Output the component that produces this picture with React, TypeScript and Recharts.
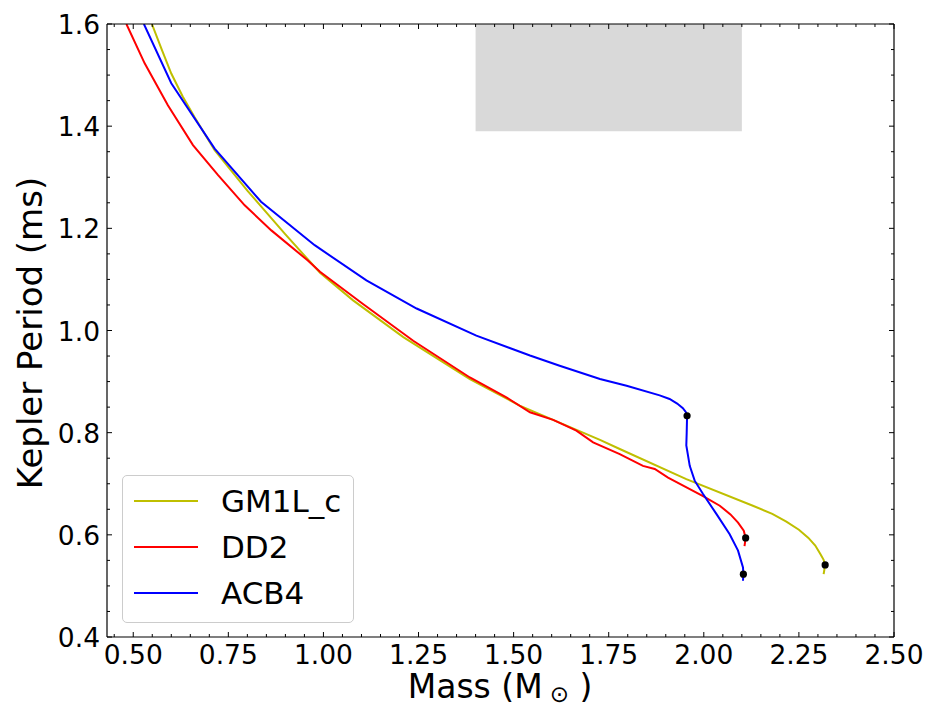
import React from 'react';
import {
  ComposedChart,
  Line,
  Scatter,
  XAxis,
  YAxis,
  ReferenceArea,
  Legend,
} from 'recharts';

// ---------- data ----------
const gm1lMass = [0.549, 0.575, 0.6, 0.63, 0.661, 0.714, 0.8, 0.9, 0.991, 1.078, 1.21, 1.385, 1.516, 1.727, 1.779, 1.954, 2.129, 2.18, 2.217, 2.25, 2.275, 2.293, 2.306, 2.315, 2.319, 2.315];
const gm1lPeriod = [1.6, 1.55, 1.503, 1.458, 1.418, 1.353, 1.274, 1.188, 1.113, 1.059, 0.987, 0.905, 0.853, 0.786, 0.768, 0.709, 0.657, 0.641, 0.626, 0.61, 0.594, 0.579, 0.563, 0.551, 0.541, 0.523];

const dd2Mass = [0.482, 0.53, 0.591, 0.657, 0.723, 0.793, 0.863, 0.959, 0.991, 1.104, 1.236, 1.385, 1.481, 1.543, 1.604, 1.665, 1.709, 1.779, 1.84, 1.871, 1.906, 1.998, 2.042, 2.07, 2.09, 2.105, 2.11, 2.107];
const dd2Period = [1.6, 1.523, 1.441, 1.363, 1.304, 1.245, 1.196, 1.137, 1.115, 1.052, 0.98, 0.908, 0.869, 0.84, 0.825, 0.804, 0.781, 0.758, 0.735, 0.729, 0.712, 0.676, 0.657, 0.64, 0.624, 0.608, 0.594, 0.578];

const acb4Mass = [0.528, 0.6, 0.714, 0.836, 0.977, 1.113, 1.245, 1.402, 1.543, 1.621, 1.727, 1.797, 1.884, 1.91, 1.93, 1.945, 1.953, 1.956, 1.955, 1.954, 1.963, 1.976, 1.998, 2.033, 2.068, 2.09, 2.103, 2.104, 2.103];
const acb4Period = [1.6, 1.484, 1.356, 1.252, 1.167, 1.098, 1.043, 0.99, 0.951, 0.931, 0.905, 0.892, 0.873, 0.866, 0.857, 0.848, 0.84, 0.833, 0.8, 0.775, 0.735, 0.706, 0.68, 0.641, 0.601, 0.569, 0.536, 0.523, 0.51];

const markerMass = [2.319, 2.11, 1.956, 2.104];
const markerPeriod = [0.541, 0.594, 0.833, 0.523];

const seriesNames = ['GM1L_c', 'DD2', 'ACB4'];
const seriesColors = ['#bfbf00', '#ff0000', '#0000ff'];

const xMajorTicks = [0.5, 0.75, 1.0, 1.25, 1.5, 1.75, 2.0, 2.25, 2.5];
const yMajorTicks = [0.4, 0.6, 0.8, 1.0, 1.2, 1.4, 1.6];
const xDomain = [0.431, 2.5];
const yDomain = [0.4, 1.6];
const shadedBox = { x1: 1.4, x2: 2.1, y1: 1.39, y2: 1.6 };

// minor tick grids (every 0.05)
const xTicks = Array.from({ length: 42 }, (_, i) => Math.round((0.45 + i * 0.05) * 100) / 100);
const yTicks = Array.from({ length: 25 }, (_, i) => Math.round((0.4 + i * 0.05) * 100) / 100);

const zip = (xs: number[], ys: number[]) => xs.map((x, i) => ({ x, y: ys[i] }));
const gm1lData = zip(gm1lMass, gm1lPeriod);
const dd2Data = zip(dd2Mass, dd2Period);
const acb4Data = zip(acb4Mass, acb4Period);
const markerData = zip(markerMass, markerPeriod);
const seriesData = [gm1lData, dd2Data, acb4Data];

const FONT = '"DejaVu Sans", sans-serif';
const isMajor = (v: number, list: number[]) => list.some((m) => Math.abs(m - v) < 1e-6);
const MAJ = 5;
const MIN = 3;

const BottomTick = (props: any) => {
  const { x, y, payload } = props;
  const major = isMajor(payload.value, xMajorTicks);
  return (
    <g>
      <line x1={x} x2={x} y1={y} y2={y - (major ? MAJ : MIN)} stroke="#000" strokeWidth={1} />
      {major && (
        <text x={x} y={y + 26.5} textAnchor="middle" fontSize={26.5} fontFamily={FONT} fill="#000">
          {payload.value.toFixed(2)}
        </text>
      )}
    </g>
  );
};

const TopTick = (props: any) => {
  const { x, y, payload } = props;
  const major = isMajor(payload.value, xMajorTicks);
  return <line x1={x} x2={x} y1={y} y2={y + (major ? MAJ : MIN)} stroke="#000" strokeWidth={1} />;
};

const LeftTick = (props: any) => {
  const { x, y, payload } = props;
  const major = isMajor(payload.value, yMajorTicks);
  return (
    <g>
      <line x1={x} x2={x + (major ? MAJ : MIN)} y1={y} y2={y} stroke="#000" strokeWidth={1} />
      {major && (
        <text x={x - 7} y={y + 10} textAnchor="end" fontSize={26.5} fontFamily={FONT} fill="#000">
          {payload.value.toFixed(1)}
        </text>
      )}
    </g>
  );
};

const RightTick = (props: any) => {
  const { x, y, payload } = props;
  const major = isMajor(payload.value, yMajorTicks);
  return <line x1={x} x2={x - (major ? MAJ : MIN)} y1={y} y2={y} stroke="#000" strokeWidth={1} />;
};

const LegendBox = () => (
  <div
    style={{
      position: 'relative',
      width: 232,
      height: 148,
      boxSizing: 'border-box',
      border: '1px solid #cccccc',
      borderRadius: 5,
      background: 'rgba(255,255,255,0.8)',
      fontFamily: FONT,
    }}
  >
    {seriesNames.map((name, i) => (
      <div key={name} style={{ position: 'absolute', left: 0, top: 2 + i * 46, height: 46, width: '100%' }}>
        <div
          style={{
            position: 'absolute',
            left: 11,
            top: 22,
            width: 64,
            height: 2,
            background: seriesColors[i],
          }}
        />
        <div
          style={{
            position: 'absolute',
            left: 98,
            top: 0,
            height: 46,
            lineHeight: '46px',
            fontSize: 31,
            color: '#000',
            whiteSpace: 'nowrap',
          }}
        >
          {name}
        </div>
      </div>
    ))}
  </div>
);

const axisLine = { stroke: '#000', strokeWidth: 1.2 };

export default function App() {
  return (
    <div style={{ position: 'absolute', left: 0, top: 0, width: 934, height: 709, background: '#fff' }}>
      <ComposedChart width={934} height={709} margin={{ top: 23, right: 39, bottom: 71, left: 106 }}>
        <XAxis
          dataKey="x"
          type="number"
          domain={xDomain}
          allowDataOverflow
          ticks={xTicks}
          interval={0}
          tickLine={false}
          tickSize={0}
          tickMargin={0}
          tick={BottomTick}
          axisLine={axisLine}
          height={1}
        />
        <XAxis
          xAxisId="top"
          orientation="top"
          dataKey="x"
          type="number"
          domain={xDomain}
          allowDataOverflow
          ticks={xTicks}
          interval={0}
          tickLine={false}
          tickSize={0}
          tickMargin={0}
          tick={TopTick}
          axisLine={axisLine}
          height={1}
        />
        <YAxis
          dataKey="y"
          type="number"
          domain={yDomain}
          allowDataOverflow
          ticks={yTicks}
          interval={0}
          tickLine={false}
          tickSize={0}
          tickMargin={0}
          tick={LeftTick}
          axisLine={axisLine}
          width={1}
        />
        <YAxis
          yAxisId="right"
          orientation="right"
          dataKey="y"
          type="number"
          domain={yDomain}
          allowDataOverflow
          ticks={yTicks}
          interval={0}
          tickLine={false}
          tickSize={0}
          tickMargin={0}
          tick={RightTick}
          axisLine={axisLine}
          width={1}
        />
        <ReferenceArea
          x1={shadedBox.x1}
          x2={shadedBox.x2}
          y1={shadedBox.y1}
          y2={shadedBox.y2}
          fill="#d9d9d9"
          fillOpacity={1}
          stroke="none"
        />
        {seriesNames.map((name, i) => (
          <Line
            key={name}
            name={name}
            data={seriesData[i]}
            dataKey="y"
            type="linear"
            stroke={seriesColors[i]}
            strokeWidth={2}
            dot={false}
            activeDot={false}
            isAnimationActive={false}
          />
        ))}
        <Scatter
          data={markerData}
          dataKey="y"
          xAxisId="top"
          yAxisId="right"
          legendType="none"
          isAnimationActive={false}
          shape={(p: any) => <circle cx={p.cx} cy={p.cy} r={3.6} fill="#000" />}
        />
        <Legend
          layout="horizontal"
          align="center"
          verticalAlign="middle"
          wrapperStyle={{ left: 122, top: 475, width: 232, height: 148 }}
          content={() => <LegendBox />}
        />
      </ComposedChart>
      <div
        style={{
          position: 'absolute',
          left: 300,
          top: 672,
          width: 400,
          height: 30,
          textAlign: 'center',
          fontFamily: FONT,
          fontSize: 33,
          lineHeight: '30px',
          color: '#000',
          whiteSpace: 'nowrap',
        }}
      >
        <span>Mass (M</span>
        <span style={{ fontSize: 23, position: 'relative', top: 4, marginLeft: 7 }}>⊙</span>
        <span> )</span>
      </div>
      <div
        style={{
          position: 'absolute',
          left: 30,
          top: 333,
          transform: 'translate(-50%, -50%) rotate(-90deg)',
          fontFamily: FONT,
          fontSize: 34,
          lineHeight: '40px',
          color: '#000',
          whiteSpace: 'nowrap',
        }}
      >
        Kepler Period (ms)
      </div>
    </div>
  );
}
